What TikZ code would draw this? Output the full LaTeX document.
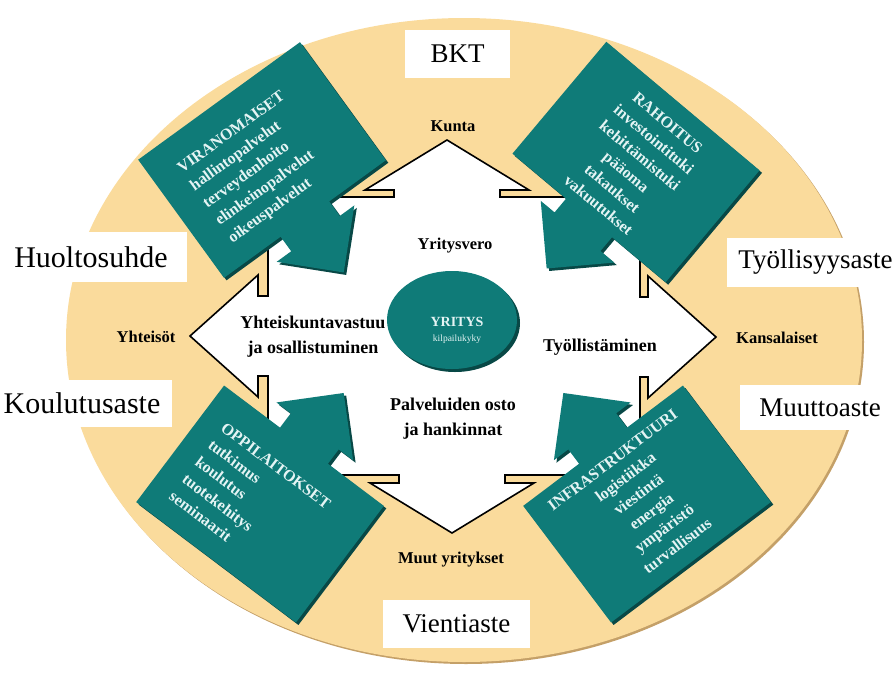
\documentclass[tikz,border=0pt]{standalone}
\usepackage{fontspec}
\setmainfont{Liberation Serif}
\begin{document}
\begin{tikzpicture}[x=1pt,y=-1pt]
\definecolor{sand}{RGB}{250,219,156}
\definecolor{sandshade}{RGB}{196,160,104}
\definecolor{boxteal}{RGB}{15,123,120}
\definecolor{tealshade}{RGB}{8,72,70}
\definecolor{boxtext}{RGB}{228,244,244}
\tikzset{
  calloutshape/.pic={
    \fill[#1] (-100,-73) -- (100,-73) -- (100,73) -- (30,73) -- (30,91)
      -- (48,91) -- (0,139) -- (-48,91) -- (-30,91) -- (-30,73)
      -- (-100,73) -- cycle;
  },
  boxlabel/.style={text=boxtext, font=\bfseries\fontsize{16}{21.5}\selectfont, inner sep=0pt},
  pointlabel/.style={font=\bfseries\fontsize{16.5}{19}\selectfont, inner sep=0pt},
  flowlabel/.style={font=\bfseries\fontsize{18}{25}\selectfont, align=center, inner sep=0pt},
  factorbox/.style={fill=white, font=\fontsize{27}{30}\selectfont, inner sep=0pt},
  bigfactorbox/.style={factorbox, font=\fontsize{30}{32}\selectfont},
}
% a callout box: centre x, centre y, angle, +1 arrow below / -1 arrow above
\newcommand\drawcallout[4]{%
  \path (#1+2.5,#2+2.5) pic[rotate=#3,yscale=#4]{calloutshape=tealshade};
  \path (#1,#2) pic[rotate=#3,yscale=#4]{calloutshape=boxteal};
}

\useasboundingbox (0,0) rectangle (895,675);

% outer field
\fill[sandshade] (466,342) ellipse [x radius=398, y radius=322];
\fill[sand] (464,340) ellipse [x radius=398, y radius=322];

% indicator boxes around the field
\node[factorbox, minimum width=105pt, minimum height=48pt] (bkt) at (457.5,54) {BKT};
\node[bigfactorbox, minimum width=192pt, minimum height=50pt] (huolto) at (91,257) {Huoltosuhde};
\node[factorbox, minimum width=177pt, minimum height=49pt] (tyollisyys) at (815.5,262.5) {Työllisyysaste};
\node[bigfactorbox, minimum width=180pt, minimum height=47pt] (koulutus) at (82,403.5) {Koulutusaste};
\node[factorbox, minimum width=160pt, minimum height=45pt] (muutto) at (820,407.5) {Muuttoaste};
\node[factorbox, minimum width=147pt, minimum height=48pt] (vienti) at (456.5,624) {Vientiaste};

% four-way arrow
\filldraw[fill=white, draw=black, line width=1.6pt, line join=miter]
  (447,140) -- (529,190) -- (500,190) -- (500,197) -- (640,197) -- (640,297)
  -- (648,297) -- (648,276) -- (716,337) -- (648,398) -- (648,377) -- (640,377)
  -- (640,475) -- (505,475) -- (505,483) -- (534,483) -- (452,533) -- (370,483)
  -- (399,483) -- (399,475) -- (268,475) -- (268,376) -- (258,376) -- (258,397)
  -- (190,336) -- (258,275) -- (258,296) -- (268,296) -- (268,197) -- (394,197)
  -- (394,190) -- (365,190) -- cycle;

% callout boxes
\drawcallout{262}{160}{36}{1}
\drawcallout{636}{162}{-40}{1}
\drawcallout{260}{504}{-37}{-1}
\drawcallout{647}{504}{37}{-1}

\node[boxlabel, rotate=36, align=left] (viranomaiset) at (257,168)
  {VIRANOMAISET\\hallintopalvelut\\terveydenhoito\\elinkeinopalvelut\\oikeuspalvelut};
\node[boxlabel, rotate=-40, align=center] (rahoitus) at (633,164)
  {RAHOITUS\\investointituki\\kehittämistuki\\pääoma\\takaukset\\vakuutukset};
\node[boxlabel, rotate=-37, align=left] (oppilaitokset) at (250,500)
  {OPPILAITOKSET\\tutkimus\\koulutus\\tuotekehitys\\seminaarit};
\node[boxlabel, rotate=37, align=center] (infra) at (645,503)
  {INFRASTRUKTUURI\\logistiikka\\viestintä\\energia\\ympäristö\\turvallisuus};

% the company in the middle
\fill[tealshade] (455,323) ellipse [x radius=65, y radius=49];
\fill[boxteal] (452,320) ellipse [x radius=65, y radius=49];
\node[text=boxtext, font=\bfseries\fontsize{14}{16}\selectfont, inner sep=0pt] (yritys) at (457,322) {YRITYS};
\node[text=boxtext, font=\fontsize{9.5}{11}\selectfont, inner sep=0pt] (kilpailukyky) at (457,339) {kilpailukyky};

% actors and flows
\node[pointlabel] (kunta) at (453,126) {Kunta};
\node[pointlabel] (yritysvero) at (455,246) {Yritysvero};
\node[pointlabel] (yhteisot) at (146,337) {Yhteisöt};
\node[pointlabel] (kansalaiset) at (777,338) {Kansalaiset};
\node[pointlabel] (muut) at (451,560) {Muut yritykset};
\node[flowlabel] (vastuu) at (313,337) {Yhteiskuntavastuu\\ja osallistuminen};
\node[flowlabel] (tyollistaminen) at (600,347) {Työllistäminen};
\node[flowlabel] (hankinnat) at (453,419) {Palveluiden osto\\ja hankinnat};
\end{tikzpicture}
\end{document}
